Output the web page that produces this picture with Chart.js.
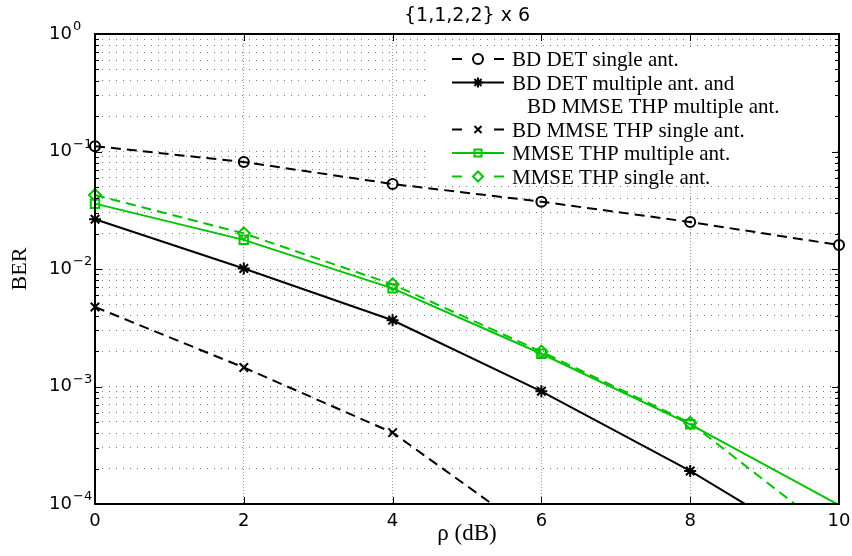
<!DOCTYPE html>
<html>
<head>
<meta charset="utf-8">
<script src="https://cdn.jsdelivr.net/npm/chart.js@4.4.0/dist/chart.umd.min.js"></script>
<style>
  html, body { margin: 0; padding: 0; background: #fff; }
</style>
</head>
<body>
<canvas id="berChart" width="852" height="556"></canvas>
<script>
// rho in dB
const rho = [0, 2, 4, 6, 8, 10];

// BER. Points under 1e-4 only set the slope into the bottom edge.
const bdDetSingle   = [0.111, 0.0814, 0.0529, 0.0374, 0.0251, 0.016];
const bdDetMultiple = [0.0265, 0.0101, 0.00366, 0.00091, 0.000191, 0.000033];
const bdMmseSingle  = [0.00475, 0.00145, 0.000405, 0.00005];
const mmseMultiple  = [0.036, 0.0177, 0.00684, 0.0019, 0.000477, 0.000098];
const mmseSingle    = [0.0426, 0.0201, 0.0074, 0.00198, 0.00049, 0.000051];

const xTicks = [0, 2, 4, 6, 8, 10];
const yDecades = [1e-4, 1e-3, 1e-2, 1e-1, 1];
const yTickBase = '10';
const yTickExp = ['\u22124', '\u22123', '\u22122', '\u22121', '0'];

const GREEN = '#00c400';

// log grid: 1..9 in each decade
const yGrid = [];
yDecades.forEach((d, i) => {
  if (i === yDecades.length - 1) { yGrid.push(d); return; }
  for (let k = 1; k <= 9; k++) yGrid.push(k * d);
});

function decadeIndex(v) {
  return yDecades.findIndex(d => Math.abs(Math.log10(d) - Math.log10(v)) < 1e-6);
}

function pts(ys) {
  return ys.map((y, i) => ({ x: rho[i], y: y }));
}

// hide markers that sit under the axis, like matlab does
function markerSize(r) {
  return c => (c.raw && c.raw.y < 1e-4 ? 0 : r);
}

function series(label, ys, color, dashed, style, r) {
  return {
    label: label,
    data: pts(ys),
    borderColor: color,
    borderWidth: 2,
    borderDash: dashed ? [10, 6] : [],
    pointStyle: style,
    pointRadius: markerSize(r),
    pointBorderWidth: 2,
    pointBorderColor: color,
    pointBackgroundColor: 'rgba(0,0,0,0)',
    tension: 0,
    clip: { left: 12, right: 12, top: 12, bottom: 0 }
  };
}

const datasets = [
  series('BD DET single ant.', bdDetSingle, '#000', true, 'circle', 5),
  series('BD DET multiple ant. and BD MMSE THP multiple ant.', bdDetMultiple, '#000', false, 'star', 6),
  series('BD MMSE THP single ant.', bdMmseSingle, '#000', true, 'crossRot', 6),
  series('MMSE THP multiple ant.', mmseMultiple, GREEN, false, 'rect', 6),
  series('MMSE THP single ant.', mmseSingle, GREEN, true, 'rectRot', 6)
];

// legend rows: text lines for each dataset
const legendRows = [
  ['BD DET single ant.'],
  ['BD DET multiple ant. and', 'BD MMSE THP multiple ant.'],
  ['BD MMSE THP single ant.'],
  ['MMSE THP multiple ant.'],
  ['MMSE THP single ant.']
];

const legendPlugin = {
  id: 'berLegend',
  beforeDatasetsDraw(chart) {
    const ctx = chart.ctx;
    ctx.save();
    ctx.fillStyle = '#fff';
    ctx.fillRect(428, 47, 408, 139);
    ctx.restore();
  },
  afterDatasetsDraw(chart) {
    const ctx = chart.ctx;
    const x0 = 452, x1 = 504, xm = 478, xt = 512;
    let y = 59;
    ctx.save();
    ctx.font = '21px "Liberation Serif"';
    ctx.textBaseline = 'alphabetic';
    legendRows.forEach((lines, i) => {
      const ds = chart.data.datasets[i];
      ctx.strokeStyle = ds.borderColor;
      ctx.lineWidth = 2;
      ctx.setLineDash([]);
      ctx.beginPath();
      if (ds.borderDash.length) {
        ctx.moveTo(x0, y); ctx.lineTo(x0 + 10, y);
        ctx.moveTo(x1 - 10, y); ctx.lineTo(x1, y);
      } else {
        ctx.moveTo(x0, y); ctx.lineTo(x1, y);
      }
      ctx.stroke();
      ctx.fillStyle = 'rgba(0,0,0,0)';
      Chart.helpers.drawPoint(ctx, { pointStyle: ds.pointStyle, radius: 5, borderWidth: 2, rotation: 0 }, xm, y);
      ctx.fillStyle = '#000';
      lines.forEach((t, j) => {
        if (j > 0) y += 23.5;
        ctx.fillText(t, j === 0 ? xt : xt + 15, y + 7);
      });
      y += 23.5;
    });
    ctx.restore();
  }
};

// box around the axes, inward ticks, exponents of the y labels
const boxPlugin = {
  id: 'axesBox',
  afterDraw(chart) {
    const { ctx, chartArea: a, scales } = chart;
    ctx.save();
    ctx.strokeStyle = '#000';
    ctx.lineWidth = 1;
    ctx.setLineDash([]);
    ctx.beginPath();
    xTicks.forEach(v => {
      const px = Math.round(scales.x.getPixelForValue(v)) + 0.5;
      ctx.moveTo(px, a.bottom); ctx.lineTo(px, a.bottom - 7);
      ctx.moveTo(px, a.top); ctx.lineTo(px, a.top + 7);
    });
    yGrid.forEach(v => {
      const py = Math.round(scales.y.getPixelForValue(v)) + 0.5;
      const len = decadeIndex(v) >= 0 ? 7 : 4;
      ctx.moveTo(a.left, py); ctx.lineTo(a.left + len, py);
      ctx.moveTo(a.right, py); ctx.lineTo(a.right - len, py);
    });
    ctx.stroke();
    ctx.lineWidth = 2;
    ctx.strokeRect(a.left, a.top, a.right - a.left, a.bottom - a.top);

    ctx.fillStyle = '#000';
    ctx.font = '13px "DejaVu Sans"';
    ctx.textAlign = 'left';
    ctx.textBaseline = 'middle';
    yDecades.forEach((d, i) => {
      const py = scales.y.getPixelForValue(d);
      ctx.fillText(yTickExp[i], a.left - 22, py - 7);
    });
    ctx.restore();
  }
};

const ctx = document.getElementById('berChart').getContext('2d');
const berChart = new Chart(ctx, {
  type: 'line',
  data: { datasets: datasets },
  options: {
    responsive: false,
    animation: false,
    layout: { padding: { left: 0, right: 13, top: 0, bottom: 0 } },
    plugins: {
      legend: { display: false },
      tooltip: { enabled: false },
      title: {
        display: true,
        fullSize: false,
        text: '{1,1,2,2} x 6',
        color: '#000',
        font: { family: 'DejaVu Sans', size: 19, weight: 'normal' },
        padding: { top: 4.6, bottom: 6.6 }
      }
    },
    scales: {
      x: {
        type: 'linear',
        min: 0,
        max: 10,
        afterBuildTicks: s => { s.ticks = xTicks.map(v => ({ value: v })); },
        afterFit: s => { s.height = 52; s.paddingLeft = 0; s.paddingRight = 0; },
        ticks: {
          color: '#000',
          font: { family: 'DejaVu Sans', size: 18 },
          padding: 7,
          maxRotation: 0
        },
        grid: { color: '#999', lineWidth: 1, drawTicks: false },
        border: { display: false, dash: [1, 2] },
        title: {
          display: true,
          text: '\u03C1 (dB)',
          color: '#000',
          font: { family: 'Liberation Serif', size: 23 },
          padding: { top: 0, bottom: 8 }
        }
      },
      y: {
        type: 'logarithmic',
        min: 1e-4,
        max: 1,
        afterBuildTicks: s => { s.ticks = yGrid.map(v => ({ value: v })); },
        afterFit: s => { s.width = 95; },
        ticks: {
          autoSkip: false,
          color: '#000',
          font: { family: 'DejaVu Sans', size: 18 },
          padding: 23,
          callback: v => (decadeIndex(v) >= 0 ? yTickBase : '')
        },
        grid: { color: '#777', lineWidth: 1, drawTicks: false },
        border: { display: false, dash: [1, 6] },
        title: {
          display: true,
          text: 'BER',
          color: '#000',
          font: { family: 'Liberation Serif', size: 22 },
          padding: { top: 7, bottom: 0 }
        }
      }
    }
  },
  plugins: [legendPlugin, boxPlugin]
});
</script>
</body>
</html>
